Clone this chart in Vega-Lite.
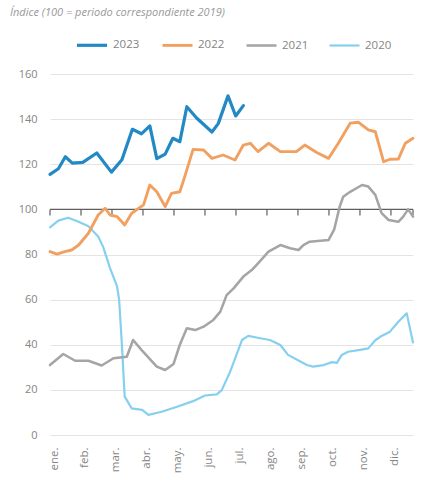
{
  "$schema": "https://vega.github.io/schema/vega-lite/v6.json",
  "width": 363,
  "height": 361,
  "autosize": {"type": "none"},
  "padding": {"left": 50, "top": 74, "right": 9, "bottom": 44},
  "background": "white",
  "title": {
    "text": "Índice (100 = periodo correspondiente 2019)",
    "anchor": "start",
    "frame": "group",
    "dx": -40,
    "offset": 10,
    "font": "Open Sans",
    "fontStyle": "italic",
    "fontSize": 11,
    "fontWeight": "normal",
    "color": "#999999"
  },
  "config": {
    "view": {"stroke": null},
    "font": "Open Sans"
  },
  "datasets": {
    "series": [
      {"w": 0, "v": 92, "y": "2020"}, {"w": 1.2, "v": 95, "y": "2020"}, {"w": 2.6, "v": 96.3, "y": "2020"}, {"w": 4.1, "v": 94.5, "y": "2020"}, {"w": 5.5, "v": 92.5, "y": "2020"}, {"w": 6.9, "v": 88, "y": "2020"}, {"w": 7.6, "v": 83.5, "y": "2020"}, {"w": 8.6, "v": 74, "y": "2020"}, {"w": 9.6, "v": 66, "y": "2020"}, {"w": 9.9, "v": 60, "y": "2020"}, {"w": 10.3, "v": 40, "y": "2020"}, {"w": 10.7, "v": 17, "y": "2020"}, {"w": 11.7, "v": 11.8, "y": "2020"}, {"w": 13.2, "v": 11.1, "y": "2020"}, {"w": 14.1, "v": 8.9, "y": "2020"}, {"w": 16, "v": 10.3, "y": "2020"}, {"w": 18.2, "v": 12.5, "y": "2020"}, {"w": 20.5, "v": 15, "y": "2020"}, {"w": 22.2, "v": 17.5, "y": "2020"}, {"w": 23.9, "v": 18, "y": "2020"}, {"w": 24.6, "v": 19.9, "y": "2020"}, {"w": 25.8, "v": 28, "y": "2020"}, {"w": 27.5, "v": 42.1, "y": "2020"}, {"w": 28.4, "v": 43.9, "y": "2020"}, {"w": 30.1, "v": 42.9, "y": "2020"}, {"w": 31.5, "v": 42.1, "y": "2020"}, {"w": 33, "v": 39.9, "y": "2020"}, {"w": 34.1, "v": 35.5, "y": "2020"}, {"w": 35.6, "v": 33, "y": "2020"}, {"w": 36.8, "v": 31, "y": "2020"}, {"w": 37.7, "v": 30.3, "y": "2020"}, {"w": 39.2, "v": 31, "y": "2020"}, {"w": 40.4, "v": 32.3, "y": "2020"}, {"w": 41.1, "v": 32, "y": "2020"}, {"w": 41.8, "v": 35.5, "y": "2020"}, {"w": 42.7, "v": 36.9, "y": "2020"}, {"w": 44.4, "v": 37.7, "y": "2020"}, {"w": 45.6, "v": 38.4, "y": "2020"}, {"w": 46.6, "v": 42, "y": "2020"}, {"w": 47.5, "v": 43.9, "y": "2020"}, {"w": 48.7, "v": 45.8, "y": "2020"}, {"w": 49.9, "v": 50.2, "y": "2020"}, {"w": 51.1, "v": 53.9, "y": "2020"}, {"w": 52, "v": 41, "y": "2020"},
      {"w": 0, "v": 31, "y": "2021"}, {"w": 1.9, "v": 35.9, "y": "2021"}, {"w": 3.6, "v": 32.9, "y": "2021"}, {"w": 5.5, "v": 32.9, "y": "2021"}, {"w": 7.4, "v": 30.8, "y": "2021"}, {"w": 9.1, "v": 34, "y": "2021"}, {"w": 11, "v": 34.7, "y": "2021"}, {"w": 11.9, "v": 42.1, "y": "2021"}, {"w": 13.1, "v": 37.7, "y": "2021"}, {"w": 15.3, "v": 30.3, "y": "2021"}, {"w": 16.5, "v": 28.8, "y": "2021"}, {"w": 17.7, "v": 31.5, "y": "2021"}, {"w": 18.6, "v": 40, "y": "2021"}, {"w": 19.6, "v": 47.3, "y": "2021"}, {"w": 20.8, "v": 46.5, "y": "2021"}, {"w": 22, "v": 48, "y": "2021"}, {"w": 23.4, "v": 51, "y": "2021"}, {"w": 24.4, "v": 54.7, "y": "2021"}, {"w": 25.3, "v": 62, "y": "2021"}, {"w": 26.3, "v": 65, "y": "2021"}, {"w": 27.7, "v": 70.2, "y": "2021"}, {"w": 28.9, "v": 73.1, "y": "2021"}, {"w": 29.8, "v": 76.1, "y": "2021"}, {"w": 31.3, "v": 81.3, "y": "2021"}, {"w": 33, "v": 84.2, "y": "2021"}, {"w": 34.4, "v": 82.8, "y": "2021"}, {"w": 35.6, "v": 82, "y": "2021"}, {"w": 36.3, "v": 84.2, "y": "2021"}, {"w": 37.2, "v": 85.7, "y": "2021"}, {"w": 39.9, "v": 86.4, "y": "2021"}, {"w": 40.7, "v": 91, "y": "2021"}, {"w": 41.5, "v": 101.2, "y": "2021"}, {"w": 42, "v": 105.6, "y": "2021"}, {"w": 43, "v": 107.8, "y": "2021"}, {"w": 44.7, "v": 110.8, "y": "2021"}, {"w": 45.6, "v": 110.1, "y": "2021"}, {"w": 46.6, "v": 106.4, "y": "2021"}, {"w": 47.5, "v": 98.3, "y": "2021"}, {"w": 48.5, "v": 95.3, "y": "2021"}, {"w": 49.9, "v": 94.5, "y": "2021"}, {"w": 50.6, "v": 96.8, "y": "2021"}, {"w": 51.3, "v": 100, "y": "2021"}, {"w": 52, "v": 96.8, "y": "2021"},
      {"w": 0, "v": 81.3, "y": "2022"}, {"w": 1, "v": 80.2, "y": "2022"}, {"w": 2.1, "v": 81.3, "y": "2022"}, {"w": 3.1, "v": 82, "y": "2022"}, {"w": 4.1, "v": 84.2, "y": "2022"}, {"w": 5.5, "v": 89.4, "y": "2022"}, {"w": 6.9, "v": 97.5, "y": "2022"}, {"w": 7.9, "v": 100.5, "y": "2022"}, {"w": 8.6, "v": 97.5, "y": "2022"}, {"w": 9.6, "v": 96.8, "y": "2022"}, {"w": 10.7, "v": 93.1, "y": "2022"}, {"w": 11.7, "v": 98.3, "y": "2022"}, {"w": 13.4, "v": 102, "y": "2022"}, {"w": 14.3, "v": 110.8, "y": "2022"}, {"w": 15.3, "v": 107.8, "y": "2022"}, {"w": 16.5, "v": 101.2, "y": "2022"}, {"w": 17.4, "v": 107.1, "y": "2022"}, {"w": 18.6, "v": 107.8, "y": "2022"}, {"w": 19.3, "v": 114.5, "y": "2022"}, {"w": 20.5, "v": 126.6, "y": "2022"}, {"w": 22, "v": 126.3, "y": "2022"}, {"w": 23.2, "v": 122.6, "y": "2022"}, {"w": 24.8, "v": 124.1, "y": "2022"}, {"w": 26.5, "v": 121.9, "y": "2022"}, {"w": 27.7, "v": 128.5, "y": "2022"}, {"w": 28.7, "v": 129.3, "y": "2022"}, {"w": 29.8, "v": 125.6, "y": "2022"}, {"w": 31.3, "v": 129.3, "y": "2022"}, {"w": 33, "v": 125.6, "y": "2022"}, {"w": 35.3, "v": 125.6, "y": "2022"}, {"w": 36.5, "v": 128.5, "y": "2022"}, {"w": 38.2, "v": 125.2, "y": "2022"}, {"w": 39.9, "v": 122.6, "y": "2022"}, {"w": 41.3, "v": 129.3, "y": "2022"}, {"w": 43, "v": 138.2, "y": "2022"}, {"w": 44.2, "v": 138.6, "y": "2022"}, {"w": 45.6, "v": 135.2, "y": "2022"}, {"w": 46.6, "v": 134.4, "y": "2022"}, {"w": 47.8, "v": 121.1, "y": "2022"}, {"w": 48.7, "v": 122.2, "y": "2022"}, {"w": 49.9, "v": 122.3, "y": "2022"}, {"w": 50.9, "v": 129.3, "y": "2022"}, {"w": 52, "v": 131.5, "y": "2022"},
      {"w": 0, "v": 115.5, "y": "2023"}, {"w": 1.2, "v": 118, "y": "2023"}, {"w": 2.2, "v": 123.3, "y": "2023"}, {"w": 3.2, "v": 120.5, "y": "2023"}, {"w": 4.7, "v": 120.8, "y": "2023"}, {"w": 6.7, "v": 125, "y": "2023"}, {"w": 8.8, "v": 116.5, "y": "2023"}, {"w": 10.3, "v": 122, "y": "2023"}, {"w": 11.8, "v": 135.5, "y": "2023"}, {"w": 13.1, "v": 133.5, "y": "2023"}, {"w": 14.3, "v": 137, "y": "2023"}, {"w": 15.3, "v": 122.5, "y": "2023"}, {"w": 16.5, "v": 124.5, "y": "2023"}, {"w": 17.6, "v": 131.5, "y": "2023"}, {"w": 18.6, "v": 130, "y": "2023"}, {"w": 19.6, "v": 145.5, "y": "2023"}, {"w": 21, "v": 140.5, "y": "2023"}, {"w": 23.2, "v": 134.3, "y": "2023"}, {"w": 24.1, "v": 138, "y": "2023"}, {"w": 25.5, "v": 150.3, "y": "2023"}, {"w": 26.6, "v": 141.4, "y": "2023"}, {"w": 27.7, "v": 146, "y": "2023"}
    ],
    "baseline": [{"w": 0, "w2": 52, "v": 100}],
    "marks": [
      {"w": 0, "v": 100}, {"w": 4.44, "v": 100}, {"w": 8.88, "v": 100}, {"w": 13.32, "v": 100}, {"w": 17.76, "v": 100}, {"w": 22.2, "v": 100}, {"w": 26.64, "v": 100}, {"w": 31.08, "v": 100}, {"w": 35.52, "v": 100}, {"w": 39.96, "v": 100}, {"w": 44.4, "v": 100}, {"w": 48.84, "v": 100}, {"w": 52, "v": 100}
    ]
  },
  "encoding": {
    "y": {
      "field": "v",
      "type": "quantitative",
      "scale": {"domain": [0, 160], "nice": false},
      "axis": {
        "title": null,
        "values": [0, 20, 40, 60, 80, 100, 120, 140, 160],
        "domain": false,
        "ticks": false,
        "grid": true,
        "gridColor": "#e4e4e4",
        "gridWidth": 1,
        "labelPadding": 13,
        "labelFontSize": 11,
        "labelColor": "#858585",
        "labelFont": "Open Sans"
      }
    },
    "x": {
      "field": "w",
      "type": "quantitative",
      "scale": {"domain": [0, 52], "nice": false, "zero": false},
      "axis": {
        "title": null,
        "orient": "bottom",
        "values": [0, 4.44, 8.88, 13.32, 17.76, 22.2, 26.64, 31.08, 35.52, 39.96, 44.4, 48.84],
        "labelExpr": "['ene.','feb.','mar.','abr.','may.','jun.','jul.','ago.','sep.','oct.','nov.','dic.'][round(datum.value/4.44)]",
        "labelAngle": -90,
        "labelAlign": "right",
        "labelBaseline": "middle",
        "labelOffset": 4,
        "labelPadding": 12,
        "labelFontSize": 11.5,
        "labelColor": "#858585",
        "labelFont": "Open Sans",
        "labelOverlap": false,
        "labelBound": false,
        "labelFlush": false,
        "domain": false,
        "ticks": false,
        "grid": false
      }
    }
  },
  "layer": [
    {
      "data": {"name": "baseline"},
      "mark": {"type": "rule", "color": "#5e5e5e", "strokeWidth": 1.2},
      "encoding": {
        "x2": {"field": "w2"}
      }
    },
    {
      "data": {"name": "marks"},
      "mark": {"type": "tick", "orient": "vertical", "size": 6, "thickness": 1.2, "yOffset": 3, "color": "#5e5e5e", "opacity": 1}
    },
    {
      "data": {"name": "series"},
      "mark": {"type": "line", "strokeCap": "round", "strokeJoin": "round"},
      "encoding": {
        "color": {
          "field": "y",
          "type": "nominal",
          "scale": {"domain": ["2023", "2022", "2021", "2020"], "range": ["#2289c4", "#f2a060", "#a5a5a5", "#86d0ef"]},
          "legend": {
            "title": null,
            "orient": "none",
            "direction": "horizontal",
            "legendX": 25,
            "legendY": -46,
            "symbolType": "stroke",
            "symbolSize": 900,
            "symbolStrokeWidth": 2.5,
            "labelOffset": 4,
            "columnPadding": 16,
            "labelFontSize": 11.5,
            "labelColor": "#858585",
            "labelFont": "Open Sans"
          }
        },
        "strokeWidth": {
          "field": "y",
          "type": "nominal",
          "scale": {"domain": ["2023", "2022", "2021", "2020"], "range": [3.2, 2.2, 2.2, 2]},
          "legend": null
        },
        "order": {"field": "w", "type": "quantitative"}
      }
    }
  ]
}
